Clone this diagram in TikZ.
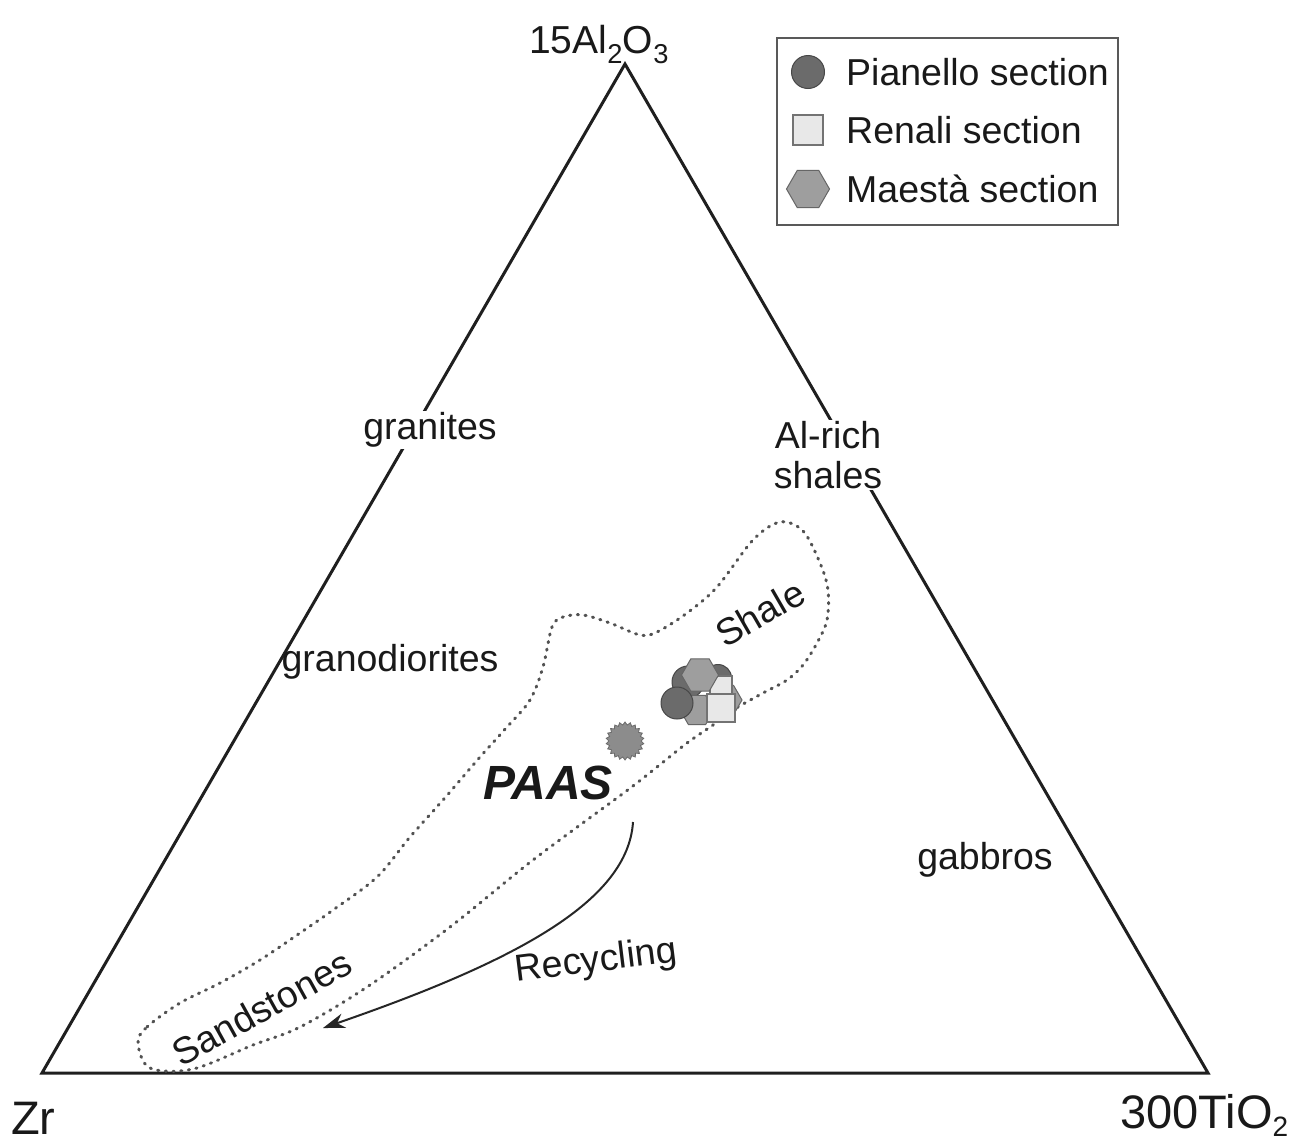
\documentclass[tikz,border=0pt]{standalone}
\usepackage{fontspec}
\setmainfont{Liberation Sans}
\usetikzlibrary{shapes.geometric,arrows.meta}

\begin{document}
\begin{tikzpicture}[x=1pt,y=-1pt,
  lbl/.style={font=\fontsize{37.5}{40}\selectfont, text=black!90, inner sep=2pt},
  ax/.style={font=\fontsize{47}{54}\selectfont, text=black!90, inner sep=0pt},
  tri/.style={line width=3pt, draw=black!88, line join=miter},
  field/.style={draw=black!68, line width=3pt, line cap=round, dash pattern=on 1.2pt off 6.5pt},
  pian/.style={circle, fill=black!58, draw=black!72, line width=1pt, inner sep=0pt},
  ren/.style={rectangle, fill=black!9, draw=black!55, line width=1.3pt, inner sep=0pt},
  mae/.style={regular polygon, regular polygon sides=6, fill=black!38, draw=black!60, line width=1pt, inner sep=0pt},
  paas/.style={star, star points=22, star point ratio=1.18, fill=black!45, draw=black!58, line width=0.8pt, inner sep=0pt},
]

\useasboundingbox[fill=white] (0,0) rectangle (1303,1146);

% triangle
\coordinate (A) at (625,64);
\coordinate (Z) at (42,1073);
\coordinate (T) at (1208,1073);
\draw[tri] (A) -- (Z) -- (T) -- cycle;

% shale / sandstone field
\draw[field] plot[smooth cycle, tension=0.55] coordinates {
 (138,1043) (147,1027) (180,1003) (220,983) (260,960) (300,933) (333,910)
 (377,877) (410,837) (443,800) (480,757) (507,727) (530,700) (543,667)
 (552,627) (563,617) (583,615) (610,623) (640,635) (657,632) (687,613)
 (717,587) (753,540) (780,522) (803,531) (820,563) (828,590) (827,620)
 (817,643) (803,665) (787,680) (763,693) (733,710) (713,725) (687,743)
 (657,767) (625,792) (533,860) (450,927) (367,987) (300,1027) (253,1045)
 (193,1069) (150,1068)};

% labels
\node[lbl, fill=white] (gran) at (430,430) {granites};
\node[lbl, fill=white, align=center, inner sep=1pt] (alr) at (828,455) {Al-rich\\shales};
\node[lbl] (grd) at (390,662) {granodiorites};
\node[lbl] (gab) at (985,860) {gabbros};
\node[lbl, rotate=30] (shl) at (760,613) {Shale};
\node[lbl, rotate=29] (snd) at (262,1008) {Sandstones};
\node[lbl, rotate=7] (rec) at (596,962) {Recycling};
\node[font=\fontsize{48}{54}\selectfont\bfseries\itshape, text=black!90, inner sep=0pt] (paasl) at (548,783) {PAAS};

% recycling arrow
\coordinate (rs) at (633,822);
\coordinate (re) at (323,1028);
\draw[line width=2pt, draw=black!85, -{Stealth[length=22pt,width=15pt]}] (rs) .. controls (628,900) and (520,960) .. (re);

% PAAS symbol
\node[paas, minimum size=38pt] (paass) at (625,741) {};

% data cluster (back to front)
\node[pian, minimum size=27pt] (p1) at (718,678) {};
\node[pian, minimum size=32pt] (p2) at (688,682) {};
\node[mae, minimum size=34pt] (m1) at (725,700) {};
\node[mae, minimum size=34pt] (m2) at (697,710) {};
\node[ren, minimum size=22pt] (r1) at (721,687) {};
\node[mae, minimum size=37pt] (m3) at (700,675) {};
\node[pian, minimum size=32pt] (p3) at (677,703) {};
\node[ren, minimum size=28pt] (r2) at (721,708) {};

% axis labels
\node[font=\fontsize{39}{44}\selectfont, text=black!90, anchor=base west, inner sep=0pt] (al) at (529,53) {15Al\textsubscript{2}O\textsubscript{3}};
\node[ax, anchor=base west] (zr) at (11,1134) {Zr};
\node[ax, anchor=base west] (ti) at (1120,1128) {300TiO\raisebox{-8pt}{\fontsize{28}{30}\selectfont 2}};

% legend
\node[draw=black!65, line width=1.5pt, minimum width=341pt, minimum height=187pt, inner sep=0pt] (leg) at (947.5,131.5) {};
\node[pian, minimum size=33pt] (lp) at (808,72) {};
\node[ren, minimum size=30pt] (lr) at (808,130) {};
\node[mae, minimum size=43pt] (lm) at (808,189) {};
\node[lbl, anchor=west, inner sep=0pt] (tp) at (846,72) {Pianello section};
\node[lbl, anchor=west, inner sep=0pt] (tr) at (846,130) {Renali section};
\node[lbl, anchor=west, inner sep=0pt] (tm) at (846,189) {Maestà section};
\end{tikzpicture}
\end{document}
